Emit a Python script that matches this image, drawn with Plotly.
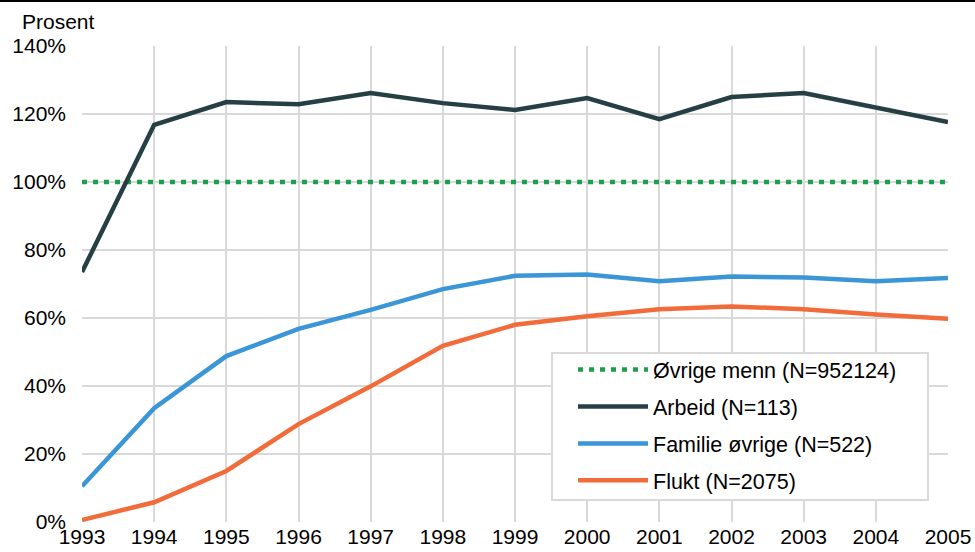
import plotly.graph_objects as go

years = list(range(1993, 2006))
ovrige = [100] * 13
arbeid = [73.5, 116.8, 123.5, 122.9, 126.2, 123.2, 121.2, 124.7, 118.5, 125.0, 126.2, 121.8, 117.6]
familie = [10.5, 33.5, 48.8, 56.8, 62.4, 68.5, 72.4, 72.8, 70.8, 72.2, 71.9, 70.8, 71.8]
flukt = [0.6, 5.8, 15.0, 28.8, 39.9, 51.8, 58.0, 60.5, 62.6, 63.4, 62.6, 61.0, 59.8]

names = ["Øvrige menn (N=952124)", "Arbeid (N=113)", "Familie øvrige (N=522)", "Flukt (N=2075)"]
colors = ["#1BA04D", "#263F44", "#3A96D6", "#F26B3A"]
series = [ovrige, arbeid, familie, flukt]
dashes = ["5px,6px", "solid", "solid", "solid"]

fig = go.Figure()
for i, (n, c, s, d) in enumerate(zip(names, colors, series, dashes)):
    fig.add_trace(go.Scatter(
        x=years, y=s, name=n, mode="lines",
        line=dict(color=c, width=4.5, dash=d),
        legendgroup=str(i),
    ))

font = "Liberation Sans, Arial, sans-serif"
L, R, T, B = 82, 27, 46, 30
PW = 975 - L - R
PH = 552 - T - B


def px_x(x):
    return (x - L) / PW


def px_y(y):
    return (552 - B - y) / PH


fig.update_layout(
    width=975, height=552,
    margin=dict(l=L, r=R, t=T, b=B, autoexpand=False),
    plot_bgcolor="white", paper_bgcolor="white",
    font=dict(family=font, size=21, color="#000000"),
    showlegend=True,
    legend=dict(
        x=px_x(551), y=px_y(349), xanchor="left", yanchor="top",
        bgcolor="rgba(0,0,0,0)", borderwidth=0,
        font=dict(size=21.5, family=font),
        traceorder="grouped", tracegroupgap=6,
        itemwidth=70, indentation=22,
    ),
    xaxis=dict(
        range=[1993, 2005], tickmode="array", tickvals=years,
        ticktext=[str(y) for y in years],
        showgrid=True, gridcolor="#D9D9D9", gridwidth=2,
        zeroline=False, showline=False, ticks="",
        tickfont=dict(size=21), automargin=False,
    ),
    yaxis=dict(
        range=[0, 140], tickvals=[0, 20, 40, 60, 80, 100, 120, 140],
        ticktext=["0%", "20%", "40%", "60%", "80%", "100%", "120%", "140%"],
        showgrid=True, gridcolor="#D9D9D9", gridwidth=2,
        zeroline=False, showline=False, ticks="",
        tickfont=dict(size=21), ticklabelstandoff=15, automargin=False,
    ),
    annotations=[
        dict(text="Prosent", xref="paper", yref="paper", x=px_x(20), y=px_y(22),
             xanchor="left", yanchor="middle", showarrow=False, font=dict(size=21)),
    ],
)
# legend frame
fig.add_shape(type="rect", xref="paper", yref="paper", layer="above",
              x0=px_x(552), x1=px_x(928), y0=px_y(500), y1=px_y(353),
              fillcolor="white", line=dict(color="#D9D9D9", width=2))
# top border line
fig.add_shape(type="line", xref="paper", yref="paper",
              x0=px_x(0), x1=px_x(975), y0=px_y(1), y1=px_y(1),
              line=dict(color="black", width=2))
fig.write_html("out.html", config={"displayModeBar": False},
               post_script="document.body.style.margin='0';document.body.style.overflow='hidden';")
